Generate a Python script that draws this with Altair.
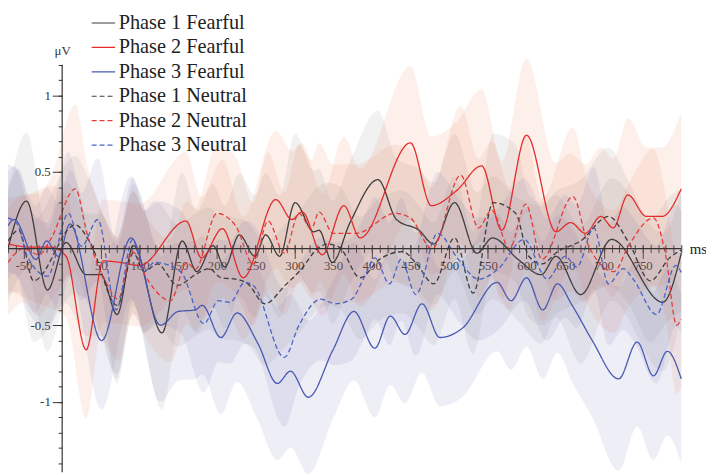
import altair as alt
import pandas as pd

series_names = ["Phase 1 Fearful", "Phase 2 Fearful", "Phase 3 Fearful",
                "Phase 1 Neutral", "Phase 2 Neutral", "Phase 3 Neutral"]

# ---- data (ms, microvolts, band half-widths) ----
p1f_t = [-70, -46, -19, 5, 31, 50, 71, 92, 129, 155, 174, 195, 210, 229, 249, 263, 281, 301, 325, 332,
         349, 372, 408, 432, 461, 480, 507, 536, 556, 589, 619, 638, 670, 710, 776, 800]
p1f_v = [0.0, 0.31, -0.27, 0.04, -0.17, -0.17, -0.43, 0.02, -0.55, 0.05, -0.15, 0.02, -0.12, 0.09, -0.05,
         0.09, -0.05, 0.30, 0.11, 0.12, -0.09, 0.17, 0.45, 0.19, 0.12, 0.03, 0.30, -0.03, 0.07, -0.07,
         -0.17, -0.05, -0.30, 0.06, -0.35, -0.03]
p1f_se = [0.35, 0.45, 0.4, 0.4, 0.4, 0.4, 0.45, 0.4, 0.5, 0.45, 0.4, 0.4, 0.4, 0.4, 0.4, 0.4, 0.4, 0.45,
          0.4, 0.4, 0.4, 0.4, 0.45, 0.4, 0.4, 0.4, 0.45, 0.4, 0.4, 0.4, 0.45, 0.4, 0.45, 0.4, 0.45, 0.4]

p2f_t = [-70, -40, -15, 5, 31, 53, 75, 100, 160, 180, 207, 234, 276, 297, 310, 336, 364, 385, 450, 477,
         510, 542, 568, 600, 638, 657, 676, 696, 712, 731, 755, 775, 800]
p2f_v = [0.03, 0.01, 0.01, -0.05, -0.66, -0.08, -0.09, -0.11, 0.18, -0.06, 0.13, -0.19, 0.32, 0.19, 0.24,
         -0.04, 0.28, 0.07, 0.69, 0.28, 0.38, 0.54, 0.12, 0.74, 0.11, 0.17, 0.10, 0.21, 0.135, 0.35, 0.21,
         0.21, 0.39]
p2f_se = [0.3, 0.35, 0.4, 0.4, 0.45, 0.4, 0.4, 0.4, 0.45, 0.4, 0.45, 0.4, 0.45, 0.45, 0.45, 0.4, 0.45,
          0.45, 0.5, 0.45, 0.45, 0.5, 0.45, 0.5, 0.45, 0.45, 0.45, 0.45, 0.45, 0.5, 0.45, 0.45, 0.5]

p3f_t = [-70, -62, -34, -20, -5, 10, 51, 89, 127, 150, 172, 181, 205, 226, 253, 278, 295, 318, 350, 377,
         404, 424, 443, 465, 488, 517, 562, 580, 600, 621, 640, 659, 685, 719, 743, 764, 782, 800]
p3f_v = [0.15, 0.19, -0.07, 0.05, -0.05, 0.16, -0.60, 0.07, -0.50, -0.41, -0.40, -0.37, -0.58, -0.42,
         -0.62, -0.88, -0.80, -0.97, -0.66, -0.41, -0.65, -0.44, -0.56, -0.36, -0.58, -0.52, -0.22, -0.34,
         -0.19, -0.40, -0.23, -0.37, -0.60, -0.85, -0.61, -0.83, -0.67, -0.85]
p3f_se = [0.35, 0.35, 0.35, 0.35, 0.35, 0.35, 0.45, 0.4, 0.5, 0.45, 0.45, 0.45, 0.5, 0.45, 0.5, 0.5, 0.5,
          0.5, 0.45, 0.45, 0.45, 0.45, 0.45, 0.45, 0.45, 0.45, 0.45, 0.45, 0.45, 0.45, 0.45, 0.5, 0.5, 0.6,
          0.55, 0.55, 0.55, 0.55]

p1n_t = [-70, -56, -37, 17, 36, 71, 92, 106, 123, 149, 172, 190, 205, 225, 240, 262, 288, 308, 330, 342,
         358, 385, 410, 440, 458, 480, 507, 531, 557, 586, 603, 620, 640, 670, 706, 732, 760, 785, 800]
p1n_v = [0.05, 0.12, -0.21, 0.155, 0.04, -0.37, -0.03, -0.15, -0.10, -0.24, -0.17, -0.13, -0.19, -0.20,
         -0.23, -0.36, -0.24, -0.14, 0.0, 0.03, 0.01, -0.19, -0.07, -0.02, -0.10, -0.23, 0.07, -0.29, 0.30,
         0.23, -0.05, -0.10, -0.02, 0.05, 0.21, 0.04, -0.21, -0.06, -0.01]
p1n_se = [0.35, 0.4, 0.4, 0.45, 0.4, 0.45, 0.4, 0.4, 0.4, 0.4, 0.4, 0.4, 0.4, 0.4, 0.4, 0.4, 0.4, 0.4,
          0.4, 0.4, 0.4, 0.4, 0.4, 0.4, 0.4, 0.4, 0.4, 0.4, 0.45, 0.45, 0.4, 0.4, 0.4, 0.4, 0.45, 0.4, 0.4,
          0.4, 0.4]

p2n_t = [-70, -50, -30, -15, 17, 32, 60, 72, 91, 110, 140, 161, 172, 200, 224, 247, 266, 287, 306, 322,
         332, 350, 380, 430, 450, 478, 515, 538, 555, 578, 599, 620, 660, 680, 713, 732, 764, 780, 794, 800]
p2n_v = [-0.09, 0.0, -0.04, 0.06, 0.39, 0.10, -0.25, -0.33, -0.02, -0.20, -0.34, -0.09, -0.135, 0.23,
         0.15, -0.10, 0.18, -0.03, 0.23, 0.13, 0.24, 0.10, 0.10, 0.23, 0.20, 0.0, 0.48, 0.135, 0.25, 0.0,
         0.29, -0.07, 0.34, 0.02, -0.15, 0.02, 0.20, -0.05, -0.50, -0.46]
p2n_se = [0.35, 0.35, 0.4, 0.4, 0.55, 0.45, 0.4, 0.4, 0.4, 0.4, 0.4, 0.4, 0.4, 0.45, 0.45, 0.4, 0.45,
          0.4, 0.45, 0.45, 0.45, 0.45, 0.45, 0.45, 0.45, 0.4, 0.45, 0.45, 0.45, 0.4, 0.45, 0.4, 0.45, 0.4,
          0.4, 0.4, 0.45, 0.4, 0.45, 0.45]

p3n_t = [-70, -58, -45, -19, 8, 25, 46, 70, 91, 106, 119, 153, 183, 202, 217, 236, 247, 287, 306, 334,
         353, 374, 391, 404, 423, 438, 457, 485, 512, 538, 563, 597, 627, 650, 665, 687, 706, 725, 738,
         768, 793, 800]
p3n_v = [0.20, 0.16, -0.05, -0.18, 0.23, 0.015, 0.19, -0.40, 0.06, -0.15, -0.09, -0.15, -0.49, -0.34,
         -0.35, -0.22, -0.24, -0.71, -0.50, -0.33, -0.36, -0.33, -0.18, -0.06, -0.23, -0.07, -0.30, 0.10,
         -0.07, -0.20, -0.135, 0.06, -0.20, -0.05, -0.12, 0.135, -0.23, -0.13, -0.20, -0.43, -0.11, -0.155]
p3n_se = [0.35, 0.35, 0.35, 0.35, 0.4, 0.35, 0.4, 0.45, 0.4, 0.4, 0.4, 0.4, 0.45, 0.4, 0.4, 0.4, 0.4,
          0.45, 0.4, 0.4, 0.4, 0.4, 0.4, 0.4, 0.4, 0.4, 0.4, 0.4, 0.4, 0.4, 0.4, 0.4, 0.4, 0.4, 0.4, 0.4,
          0.4, 0.4, 0.4, 0.45, 0.4, 0.4]

x_major_ticks = [-50, 50, 100, 150, 200, 250, 300, 350, 400, 450, 500, 550, 600, 650, 700, 750]
y_major_ticks = [-1, -0.5, 0.5, 1]
x_minor_ticks = list(range(-70, 801, 10))
y_minor_ticks = [round(i / 10, 1) for i in range(-14, 13)]
y_axis_top = 1.2

# ---- styles ----
line_colors = ["#3c3c3c", "#e32b2b", "#4858b0", "#3c3c3c", "#e63a3a", "#4a62c4"]
band_colors = ["#7a7a7a", "#f0703c", "#5a5aa8", "#7a7a7a", "#f0703c", "#5a5aa8"]
dashes = [[1, 0], [1, 0], [1, 0], [5, 3], [5, 3], [5, 3]]

W, H = 681, 467
XMIN, XMAX = -70, 800
YMIN, YMAX = -1.46, 1.553
zero_px = H * YMAX / (YMAX - YMIN)
x0_px = W * (0 - XMIN) / (XMAX - XMIN)
SERIF = "Liberation Serif"
X_OFF = (zero_px - 4) - H      # bottom axes: y = H + offset
Y_OFF = -x0_px                 # left axes: x = -offset

rows = []
for name, ts, vs, ses in zip(series_names,
                             [p1f_t, p2f_t, p3f_t, p1n_t, p2n_t, p3n_t],
                             [p1f_v, p2f_v, p3f_v, p1n_v, p2n_v, p3n_v],
                             [p1f_se, p2f_se, p3f_se, p1n_se, p2n_se, p3n_se]):
    for t, v, s in zip(ts, vs, ses):
        rows.append({"series": name, "t": t, "v": v, "lo": v - s, "hi": v + s})
df = pd.DataFrame(rows)

xs = alt.Scale(domain=[XMIN, XMAX], nice=False, zero=False)
ys = alt.Scale(domain=[YMIN, YMAX], nice=False, zero=False)

x_minor_axis = alt.Axis(values=x_minor_ticks, labels=False, domain=False, grid=False, tickSize=8,
                        tickColor="#333333", tickWidth=1, orient="bottom", offset=X_OFF, title=None)
x_major_axis = alt.Axis(values=x_major_ticks, domain=False, grid=False, tickSize=14, tickColor="#333333",
                        tickWidth=1, orient="bottom", offset=X_OFF,
                        labelExpr="'' + datum.value", labelFont=SERIF, labelFontSize=13,
                        labelColor="#333333", labelPadding=1, labelFlush=False, labelOverlap=False,
                        title="ms", titleX=W + 8, titleY=4, titleAlign="left", titleBaseline="middle",
                        titleFont=SERIF, titleFontSize=15, titleFontWeight="normal", titleColor="#222222")
y_minor_axis = alt.Axis(values=y_minor_ticks, labels=False, domain=False, grid=False, tickSize=4,
                        tickColor="#333333", tickWidth=1, orient="left", offset=Y_OFF, title=None)
y_major_axis = alt.Axis(values=y_major_ticks, domain=False, grid=False, tickSize=10, tickColor="#333333",
                        tickWidth=1, orient="left", offset=Y_OFF,
                        labelExpr="'' + datum.value", labelFont=SERIF, labelFontSize=13,
                        labelColor="#333333", labelPadding=2, labelFlush=False, labelOverlap=False,
                        title="μV", titleAngle=0, titleX=0, titleY=40, titleAlign="center",
                        titleBaseline="middle", titleFont=SERIF, titleFontSize=13,
                        titleFontWeight="normal", titleColor="#333333")

legend = alt.Legend(title=None, orient="none", legendX=84, legendY=0, symbolType="stroke",
                    symbolSize=560, symbolStrokeWidth=1.2, labelFont=SERIF, labelFontSize=20.5,
                    labelColor="#222222", rowPadding=1.7, labelOffset=3, padding=0, labelLimit=300)

# fill scale listed in reverse order so that its (disabled) legend is not merged with the line legend
bands = alt.Chart(df).mark_area(interpolate="monotone", opacity=0.1).encode(
    x=alt.X("t:Q", scale=xs, axis=x_minor_axis),
    y=alt.Y("lo:Q", scale=ys, axis=y_minor_axis),
    y2="hi:Q",
    fill=alt.Fill("series:N", scale=alt.Scale(domain=series_names[::-1], range=band_colors[::-1]),
                  legend=None),
)

lines = alt.Chart(df).mark_line(interpolate="monotone", strokeWidth=1.3).encode(
    x=alt.X("t:Q", scale=xs, axis=x_major_axis),
    y=alt.Y("v:Q", scale=ys, axis=y_major_axis),
    stroke=alt.Stroke("series:N", scale=alt.Scale(domain=series_names, range=line_colors), legend=legend),
    strokeDash=alt.StrokeDash("series:N", scale=alt.Scale(domain=series_names, range=dashes), legend=legend),
)

xline = alt.Chart(pd.DataFrame({"yv": [0]})).mark_rule(color="#333333", strokeWidth=1.2).encode(
    y=alt.Y("yv:Q", scale=ys, axis=None))
yline = alt.Chart(pd.DataFrame({"xv": [0], "lo": [YMIN], "hi": [y_axis_top]})).mark_rule(
    color="#333333", strokeWidth=1.2).encode(
    x=alt.X("xv:Q", scale=xs, axis=None),
    y=alt.Y("lo:Q", scale=ys, axis=None),
    y2="hi:Q")

chart = alt.layer(bands, lines, xline, yline).resolve_axis(
    x="independent", y="independent"
).properties(
    width=W, height=H,
    autosize=alt.AutoSizeParams(type="none"),
    padding={"left": 0, "top": 0, "right": 25, "bottom": 0},
    background="white",
).configure_view(stroke=None)

chart.save("out.html", embed_options={"renderer": "svg", "actions": False})
